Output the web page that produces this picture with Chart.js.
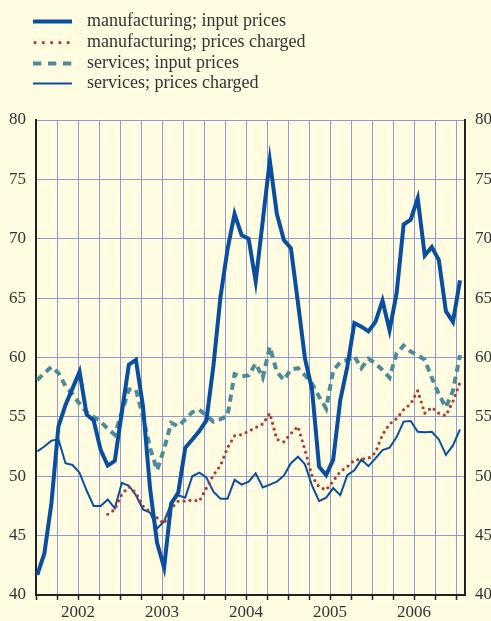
<!DOCTYPE html>
<html>
<head>
<meta charset="utf-8">
<script src="https://cdn.jsdelivr.net/npm/chart.js@4"></script>
<style>
  html, body { margin: 0; padding: 0; background: #fffce1; }
  #wrap { position: relative; width: 491px; height: 621px; overflow: hidden; }
  #chart { position: absolute; left: 0; top: 0; }
  .legend { position: absolute; left: 33px; top: 0; font-family: "Liberation Serif", "Times New Roman", serif; font-size: 18px; color: #333; }
  .row { position: absolute; left: 0; width: 300px; height: 21px; line-height: 21px; white-space: nowrap; }
  .row svg { position: absolute; left: 0; top: 0; }
  .row span { position: absolute; left: 54px; top: 0; }
</style>
</head>
<body>
<div id="wrap">
  <canvas id="chart" width="491" height="621"></canvas>
  <div class="legend" id="legend"></div>
</div>
<script>
// year labels (one per year, centred on July)
const years = ["2002", "2003", "2004", "2005", "2006"];

// monthly readings, Jan 2002 .. Jan 2007
const mfgInput = [41.7, 43.5, 47.7, 54.2, 56.0, 57.4, 58.8, 55.2, 54.7, 52.2, 50.9, 51.3,
  55.4, 59.4, 59.8, 55.9, 49.0, 44.4, 42.3, 47.7, 48.6, 52.4, 53.1, 53.8,
  54.7, 59.3, 65.1, 69.1, 72.1, 70.3, 70.0, 66.4, 71.5, 76.6, 72.1, 69.9,
  69.2, 64.6, 59.9, 57.3, 50.8, 50.1, 51.4, 56.4, 59.2, 62.9, 62.6, 62.2,
  63.0, 64.8, 62.3, 65.4, 71.2, 71.6, 73.4, 68.6, 69.3, 68.2, 63.9, 63.0, 66.5];

const mfgCharged = [null, null, null, null, null, null, null, null, null, null, 46.8, 47.2,
  48.5, 49.1, 48.6, 47.5, 47.0, 46.5, 46.0, 47.3, 47.9, 47.9, 48.0, 47.9,
  49.0, 50.1, 50.9, 52.4, 53.4, 53.5, 53.8, 54.1, 54.4, 55.3, 53.1, 52.9,
  53.6, 54.2, 52.2, 50.0, 49.1, 48.85, 49.6, 50.4, 50.8, 51.35, 51.45, 51.5,
  52.0, 53.5, 54.4, 54.85, 55.6, 56.1, 57.2, 55.3, 55.8, 55.3, 55.1, 56.3, 57.9];

const svcInput = [58.1, 58.7, 59.2, 58.7, 57.6, 56.9, 56.1, 55.4, 55.0, 54.6, 54.0, 53.5,
  55.4, 57.3, 57.3, 55.0, 52.4, 50.5, 52.3, 54.5, 54.2, 54.8, 55.4, 55.6,
  55.1, 54.6, 54.8, 55.1, 58.6, 58.4, 58.5, 59.5, 58.3, 60.9, 58.8, 58.1,
  59.0, 59.1, 58.5, 57.8, 56.7, 55.7, 58.9, 59.6, 59.8, 60.1, 59.1, 59.9,
  59.5, 58.95, 58.3, 60.35, 61.0, 60.5, 60.2, 59.8, 58.3, 56.9, 55.8, 57.2, 60.2];

const svcCharged = [52.1, 52.5, 53.0, 53.1, 51.1, 50.95, 50.3, 48.8, 47.5, 47.5, 48.05, 47.3,
  49.45, 49.2, 48.4, 47.2, 46.95, 45.6, 46.2, 47.7, 48.4, 48.2, 50.0, 50.3,
  49.9, 48.7, 48.1, 48.1, 49.7, 49.3, 49.55, 50.25, 49.05, 49.3, 49.55, 50.05,
  51.1, 51.65, 51.0, 49.2, 47.9, 48.2, 49.0, 48.4, 50.1, 50.5, 51.4, 50.85,
  51.5, 52.2, 52.4, 53.3, 54.6, 54.65, 53.75, 53.7, 53.75, 53.1, 51.8, 52.6, 53.95];

const seriesNames = [
  "manufacturing; input prices",
  "manufacturing; prices charged",
  "services; input prices",
  "services; prices charged"
];

const BLUE = "#0a4f9f";
const RED = "#b0392f";
const TEAL = "#4d8b98";
const GRID = "#8f9bd6";
const INK = "#333";

// x axis runs in data-point units; quarter gridlines sit every ~2.98 points
const xMin = -0.185, xMax = 60.71, quarterStep = 2.981;

const toPoints = arr => arr.map((v, i) => ({ x: i, y: v }));

// legend (html, top left)
const legendStyles = [
  { color: BLUE, width: 4, dash: "", cap: "butt" },
  { color: RED, width: 3.2, dash: "0 8.3", cap: "round" },
  { color: TEAL, width: 4, dash: "8.3 6.7", cap: "butt" },
  { color: BLUE, width: 2, dash: "", cap: "butt" }
];
const legend = document.getElementById("legend");
seriesNames.forEach((name, k) => {
  const s = legendStyles[k];
  const row = document.createElement("div");
  row.className = "row";
  row.style.top = (10 + k * 20.8) + "px";
  const x1 = s.cap === "round" ? 2 : 0;
  row.innerHTML =
    '<svg width="40" height="21"><line x1="' + x1 + '" y1="11.6" x2="39" y2="11.6" stroke="' + s.color +
    '" stroke-width="' + s.width + '" stroke-linecap="' + s.cap + '"' +
    (s.dash ? ' stroke-dasharray="' + s.dash + '"' : "") + '/></svg><span>' + name + "</span>";
  legend.appendChild(row);
});

Chart.defaults.font.family = '"Liberation Serif", "Times New Roman", serif';
Chart.defaults.color = INK;

new Chart(document.getElementById("chart").getContext("2d"), {
  type: "line",
  data: {
    datasets: [
      {
        label: seriesNames[0], data: toPoints(mfgInput),
        borderColor: BLUE, borderWidth: 4, borderJoinStyle: "miter"
      },
      {
        label: seriesNames[1], data: toPoints(mfgCharged),
        borderColor: RED, borderWidth: 3.2, borderDash: [0, 6], borderCapStyle: "round"
      },
      {
        label: seriesNames[2], data: toPoints(svcInput),
        borderColor: TEAL, borderWidth: 4, borderDash: [7, 5]
      },
      {
        label: seriesNames[3], data: toPoints(svcCharged),
        borderColor: BLUE, borderWidth: 2
      }
    ]
  },
  options: {
    responsive: false,
    animation: false,
    devicePixelRatio: 1,
    spanGaps: false,
    elements: { point: { radius: 0 }, line: { tension: 0, fill: false } },
    layout: { padding: { top: 120, left: 0, right: 0, bottom: 0 } },
    plugins: { legend: { display: false }, tooltip: { enabled: false } },
    scales: {
      x: {
        type: "linear",
        position: "bottom",
        min: xMin,
        max: xMax,
        afterBuildTicks: axis => {
          axis.ticks = Array.from({ length: 21 }, (_, q) => ({ value: xMin + q * quarterStep }));
        },
        afterFit: axis => { axis.height = 26; },
        grid: { color: GRID, lineWidth: 1, tickColor: "#222", tickLength: 5, tickWidth: 1.5 },
        border: { color: "#222", width: 2 },
        ticks: {
          autoSkip: false,
          maxRotation: 0,
          padding: 2,
          font: { size: 17 },
          color: INK,
          callback: (v, i) => (i % 4 === 2 ? years[(i - 2) / 4] : "")
        }
      },
      y: {
        position: "left",
        min: 40,
        max: 80,
        afterFit: axis => { axis.width = 36; },
        grid: { color: GRID, lineWidth: 1, drawTicks: false },
        border: { color: "#222", width: 2 },
        ticks: { stepSize: 5, padding: 10, font: { size: 17 }, color: INK }
      },
      y2: {
        position: "right",
        min: 40,
        max: 80,
        afterFit: axis => { axis.width = 26; },
        grid: { drawOnChartArea: false, drawTicks: false },
        border: { color: "#222", width: 2 },
        ticks: { stepSize: 5, padding: 10, font: { size: 17 }, color: INK }
      }
    }
  }
});
</script>
</body>
</html>
